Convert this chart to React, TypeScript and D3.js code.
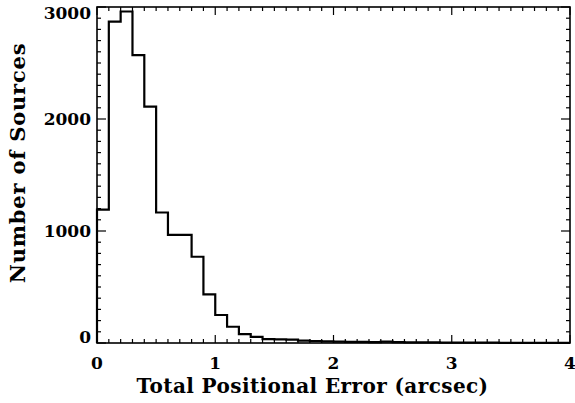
import React, { useEffect, useRef } from "react";
import * as d3 from "d3";

// histogram bins, 0.1 arcsec wide starting at 0
const binStart = 0;
const binWidth = 0.1;
const counts = [
  1190, 2870, 2960, 2570, 2110, 1165, 965, 965, 770, 435,
  250, 145, 80, 55, 35, 33, 30, 22, 18, 15,
  12, 10, 10, 8, 12, 8, 6, 5, 5, 4,
  4, 3, 3, 3, 2, 2, 2, 2, 1, 1,
];
const xTicks = [0, 1, 2, 3, 4];
const yTicks = [0, 1000, 2000, 3000];
const xLabel = "Total Positional Error (arcsec)";
const yLabel = "Number of Sources";

function App() {
  const ref = useRef(null);

  useEffect(() => {
    const width = 575;
    const height = 403;
    const m = { left: 97, right: 5, top: 7, bottom: 60 };
    const font = "'DejaVu Serif', serif";

    d3.select(ref.current).select("svg").remove();

    const svg = d3
      .select(ref.current)
      .append("svg")
      .attr("width", width)
      .attr("height", height)
      .style("display", "block")
      .style("background", "white");

    const x = d3.scaleLinear().domain([0, 4]).range([m.left, width - m.right]);
    const y = d3.scaleLinear().domain([0, 3000]).range([height - m.bottom, m.top]);

    const x0 = x.range()[0], x1 = x.range()[1];
    const y0 = y.range()[0], y1 = y.range()[1];

    // histogram outline as a step path
    const pts: [number, number][] = [];
    counts.forEach((c, i) => {
      const a = binStart + i * binWidth;
      pts.push([a, c], [a + binWidth, c]);
    });
    const line = d3
      .line<[number, number]>()
      .x((d) => x(d[0]))
      .y((d) => y(d[1]));

    svg
      .append("path")
      .attr("d", line([[0, 0], ...pts]))
      .attr("fill", "none")
      .attr("stroke", "black")
      .attr("stroke-width", 2.2);

    // axis box
    svg
      .append("rect")
      .attr("x", x0)
      .attr("y", y1)
      .attr("width", x1 - x0)
      .attr("height", y0 - y1)
      .attr("fill", "none")
      .attr("stroke", "black")
      .attr("stroke-width", 1.6);

    const g = svg.append("g").attr("stroke", "black").attr("stroke-width", 1.2);

    // x ticks (top and bottom), minor every 0.1
    d3.range(0, 41).forEach((k) => {
      const v = k / 10;
      const len = k % 10 === 0 ? 8 : 4;
      const px = x(v);
      g.append("line").attr("x1", px).attr("x2", px).attr("y1", y0).attr("y2", y0 - len);
      g.append("line").attr("x1", px).attr("x2", px).attr("y1", y1).attr("y2", y1 + len);
    });

    // y ticks (left and right), minor every 100
    d3.range(0, 31).forEach((k) => {
      const v = k * 100;
      const len = k % 10 === 0 ? 9 : 4;
      const py = y(v);
      g.append("line").attr("x1", x0).attr("x2", x0 + len).attr("y1", py).attr("y2", py);
      g.append("line").attr("x1", x1).attr("x2", x1 - len).attr("y1", py).attr("y2", py);
    });

    svg
      .selectAll("text.xt")
      .data(xTicks)
      .enter()
      .append("text")
      .attr("x", (d) => x(d))
      .attr("y", y0 + 26)
      .attr("text-anchor", "middle")
      .attr("font-family", font)
      .attr("font-weight", "bold")
      .attr("font-size", 17)
      .text((d) => d);

    svg
      .selectAll("text.yt")
      .data(yTicks)
      .enter()
      .append("text")
      .attr("x", x0 - 6)
      .attr("y", (d, i) => {
        let py = y(d) + 6;
        if (i === 0) py -= 6;
        if (i === yTicks.length - 1) py += 6;
        return py;
      })
      .attr("text-anchor", "end")
      .attr("font-family", font)
      .attr("font-weight", "bold")
      .attr("font-size", 17)
      .text((d) => d);

    svg
      .append("text")
      .attr("x", (x0 + x1) / 2 - 21)
      .attr("y", 393)
      .attr("text-anchor", "middle")
      .attr("font-family", font)
      .attr("font-weight", "bold")
      .attr("font-size", 20)
      .attr("letter-spacing", 0.4)
      .text(xLabel);

    svg
      .append("text")
      .attr("transform", `translate(25, 163) rotate(-90)`)
      .attr("text-anchor", "middle")
      .attr("font-family", font)
      .attr("font-weight", "bold")
      .attr("font-size", 21)
      .attr("letter-spacing", 0.8)
      .text(yLabel);
  }, []);

  return <div ref={ref} style={{ position: "absolute", left: 0, top: 0 }}></div>;
}

export default App;
